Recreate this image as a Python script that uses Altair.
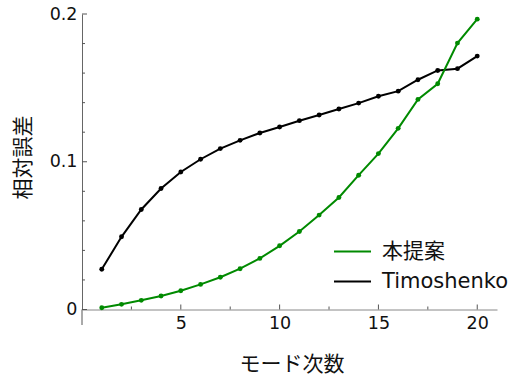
import altair as alt
import pandas as pd

modes = list(range(1, 21))
proposed = [0.0012, 0.0035, 0.0062, 0.0091, 0.0127, 0.0170, 0.0218, 0.0276, 0.0346, 0.0431,
            0.0528, 0.0639, 0.0758, 0.0909, 0.1055, 0.1226, 0.1422, 0.1528, 0.1803, 0.1965]
timoshenko = [0.0272, 0.0492, 0.0677, 0.0819, 0.0931, 0.1017, 0.1089, 0.1145, 0.1195, 0.1235,
              0.1278, 0.1316, 0.1357, 0.1397, 0.1443, 0.1478, 0.1555, 0.1618, 0.1630, 0.1715]
series_names = ["本提案", "Timoshenko"]
series_colors = ["#008a00", "#000000"]

x_major = [5, 10, 15, 20]
x_minor = [2.5, 7.5, 12.5, 17.5]
y_major = [0, 0.1, 0.2]
y_minor = [0.02, 0.04, 0.06, 0.08, 0.12, 0.14, 0.16, 0.18]

FONT = "'DejaVu Sans', 'Noto Sans CJK JP', sans-serif"

rows = []
for m, v in zip(modes, timoshenko):
    rows.append({"mode": m, "error": v, "series": series_names[1]})
for m, v in zip(modes, proposed):
    rows.append({"mode": m, "error": v, "series": series_names[0]})
df = pd.DataFrame(rows)

xs = alt.Scale(domain=[0, 21], nice=False, zero=False)
ys = alt.Scale(domain=[0, 0.2], nice=False, zero=False)
cs = alt.Scale(domain=series_names, range=series_colors)

base = alt.Chart(df)

lines = base.mark_line(strokeWidth=2).encode(
    x=alt.X("mode:Q", scale=xs, axis=alt.Axis(
        title="モード次数", values=x_major, labelFontSize=17.5, labelPadding=5,
        titleFontSize=21, titleFontWeight="normal", titleY=55, titleX=209.5,
        titleBaseline="middle", titleAlign="center")),
    y=alt.Y("error:Q", scale=ys, axis=alt.Axis(
        title="相対誤差", values=y_major, format=".1~f", labelFontSize=17.5, labelPadding=5,
        titleFontSize=21, titleFontWeight="normal", titleX=-58.5, titleY=143,
        titleAngle=-90, titleBaseline="middle", titleAlign="center")),
    color=alt.Color("series:N", scale=cs, sort=series_names, legend=alt.Legend(
        title=None, orient="none", legendX=251, legendY=218, symbolType="stroke",
        symbolSize=1369, symbolStrokeWidth=2, labelFontSize=21, labelOffset=10,
        rowPadding=-13, padding=0, labelFont=FONT)),
    detail="series:N",
)

points = base.mark_circle(size=24, opacity=1).encode(
    x=alt.X("mode:Q", scale=xs),
    y=alt.Y("error:Q", scale=ys),
    color=alt.Color("series:N", scale=cs, legend=None),
)

xmaj = alt.Chart(pd.DataFrame({"mode": x_major})).mark_rule(color="#555", strokeWidth=1, y2Offset=-5).encode(
    x=alt.X("mode:Q", scale=xs), y=alt.datum(0), y2=alt.datum(0))
xmin = alt.Chart(pd.DataFrame({"mode": x_minor})).mark_rule(color="#555", strokeWidth=1, y2Offset=-3).encode(
    x=alt.X("mode:Q", scale=xs), y=alt.datum(0), y2=alt.datum(0))
ymaj = alt.Chart(pd.DataFrame({"error": y_major})).mark_rule(color="#555", strokeWidth=1, x2Offset=5).encode(
    y=alt.Y("error:Q", scale=ys), x=alt.datum(0), x2=alt.datum(0))
ymin = alt.Chart(pd.DataFrame({"error": y_minor})).mark_rule(color="#555", strokeWidth=1, x2Offset=3).encode(
    y=alt.Y("error:Q", scale=ys), x=alt.datum(0), x2=alt.datum(0))
yext = alt.Chart(pd.DataFrame({"error": [0]})).mark_rule(color="#555", strokeWidth=1, y2Offset=15.5).encode(
    y=alt.Y("error:Q", scale=ys), y2=alt.datum(0), x=alt.datum(0))

chart = alt.layer(lines, points, xmaj, xmin, ymaj, ymin, yext).properties(
    width=415, height=295.5,
    autosize=alt.AutoSizeParams(type="none"),
    padding={"left": 82, "top": 14, "right": 15, "bottom": 68},
).configure_view(stroke=None).configure_axis(
    grid=False, ticks=False, domainColor="#666", labelColor="#111", titleColor="#111",
    labelFont=FONT, titleFont=FONT,
).configure_axisX(domainColor="#888").configure_legend(labelColor="#111")

chart.save("out.html", embed_options={"renderer": "svg", "actions": False})
